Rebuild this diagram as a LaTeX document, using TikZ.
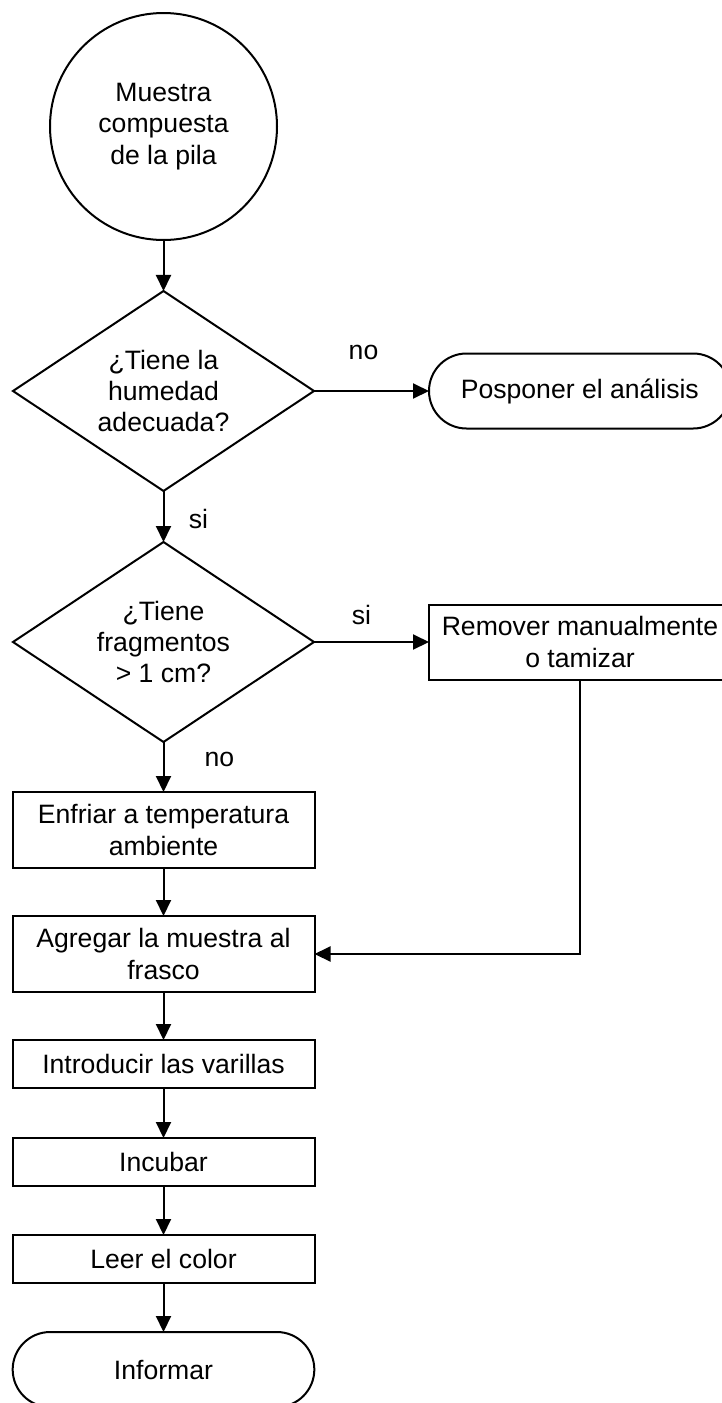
\documentclass[tikz,border=0pt]{standalone}
\usepackage{fontspec}
\setmainfont{Liberation Sans}
\usepackage{tikz}
\usetikzlibrary{positioning,shapes.geometric,shapes.misc,arrows.meta}

\begin{document}
\begin{tikzpicture}[line width=1pt, >={Triangle[length=8pt,width=7.5pt]},
  every node/.style={font=\fontsize{13.3}{15.6}\selectfont, align=center, outer sep=0pt},
  startnode/.style={circle, draw, minimum size=113.5pt, inner sep=0pt},
  decision/.style={diamond, draw, shape aspect=1.5, minimum width=150.5pt, minimum height=100pt, inner sep=0pt},
  process/.style={rectangle, draw, minimum width=151pt},
  terminal/.style={rounded rectangle, draw, minimum width=157.5pt, minimum height=37.5pt},
  lbl/.style={inner sep=0pt}]
  \useasboundingbox (0,0) rectangle (361pt,-701.5pt);
  \node (sample) [startnode] at (81.75pt,-63.25pt) {Muestra\\compuesta\\de la pila};
  \node (moisture) [decision, below=25.5pt of sample] {¿Tiene la\\humedad\\adecuada?};
  \node (postpone) [terminal, right=57.5pt of moisture] {Posponer el análisis};
  \node (fragments) [decision, below=25.5pt of moisture] {¿Tiene\\fragmentos\\> 1 cm?};
  \node (remove) [process, minimum height=37.5pt, right=57.5pt of fragments] {Remover manualmente\\o tamizar};
  \node (cool) [process, minimum height=38pt, below=25pt of fragments] {Enfriar a temperatura\\ambiente};
  \node (add) [process, minimum height=38pt, below=24pt of cool] {Agregar la muestra al\\frasco};
  \node (rods) [process, minimum height=24pt, below=24pt of add] {Introducir las varillas};
  \node (incubate) [process, minimum height=24pt, below=25pt of rods] {Incubar};
  \node (readcolor) [process, minimum height=24pt, below=24.5pt of incubate] {Leer el color};
  \node (report) [terminal, below=24.5pt of readcolor] {Informar};
  \draw[->] (sample) -- (moisture);
  \draw[->] (moisture) -- node[lbl, midway, xshift=-4pt, yshift=19.5pt] {no} (postpone);
  \draw[->] (moisture) -- node[lbl, midway, xshift=17.5pt, yshift=-1pt] {si} (fragments);
  \draw[->] (fragments) -- node[lbl, midway, xshift=-5pt, yshift=13.5pt] {si} (remove);
  \draw[->] (fragments) -- node[lbl, midway, xshift=28pt, yshift=4pt] {no} (cool);
  \draw[->] (remove.south) |- (add.east);
  \draw[->] (cool) -- (add);
  \draw[->] (add) -- (rods);
  \draw[->] (rods) -- (incubate);
  \draw[->] (incubate) -- (readcolor);
  \draw[->] (readcolor.south) -- (report.north);
\end{tikzpicture}
\end{document}
